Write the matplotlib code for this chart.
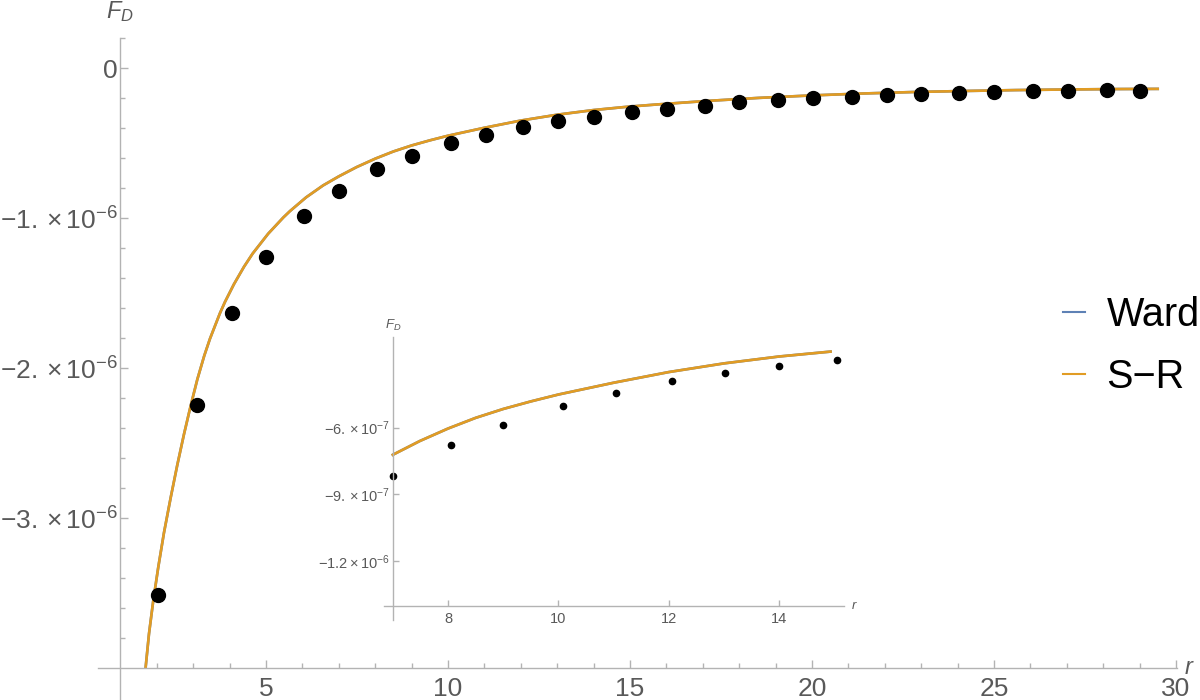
import numpy as np
import matplotlib
matplotlib.use("Agg")
import matplotlib.pyplot as plt
from matplotlib.lines import Line2D
from matplotlib.ticker import FixedLocator, FixedFormatter

plt.rcParams['font.family'] = ['Liberation Sans', 'DejaVu Sans']
plt.rcParams['mathtext.fontset'] = 'custom'
plt.rcParams['mathtext.rm'] = 'Liberation Sans'
plt.rcParams['mathtext.it'] = 'Liberation Sans:italic'
plt.rcParams['mathtext.bf'] = 'Liberation Sans:bold'

# data points, F_D in units of 1e-6
dot_r = [2.03, 3.1, 4.06, 5.0, 6.04, 7.0, 8.05, 9.0, 10.08, 11.04, 12.06, 13.02, 14.0, 15.05,
         16.02, 17.06, 18.0, 19.07, 20.03, 21.1, 22.06, 23.0, 24.04, 25.0, 26.07, 27.03, 28.1, 29.0]
dot_F = [-3.513, -2.247, -1.635, -1.26, -0.987, -0.816, -0.676, -0.586, -0.502, -0.444, -0.391,
         -0.355, -0.323, -0.294, -0.273, -0.251, -0.229, -0.213, -0.198, -0.191, -0.18, -0.171,
         -0.165, -0.158, -0.155, -0.151, -0.147, -0.153]

# curve (Ward and S-R lie on top of each other)
curve_r = [1.695, 1.786, 1.904, 2.041, 2.198, 2.382, 2.563, 2.747, 2.931, 3.113, 3.305, 3.462,
           3.736, 3.874, 4.12, 4.396, 4.634, 5.06, 5.475, 5.66, 6.1, 6.57, 7.0, 7.49, 8.0, 8.5,
           9.0, 9.5, 10.0, 11.0, 12.0, 13.0, 14.0, 14.93, 15.73, 17.13, 18.54, 19.95, 21.36,
           22.77, 24.18, 25.59, 27.0, 28.41, 29.5]
ward_F = [-3.99, -3.769, -3.547, -3.325, -3.095, -2.862, -2.645, -2.44, -2.25, -2.075, -1.916,
          -1.803, -1.633, -1.558, -1.44, -1.324, -1.236, -1.104, -0.996, -0.953, -0.862, -0.782,
          -0.722, -0.66, -0.604, -0.556, -0.516, -0.482, -0.451, -0.398, -0.35, -0.311, -0.28,
          -0.258, -0.243, -0.219, -0.199, -0.183, -0.17, -0.16, -0.153, -0.147, -0.143, -0.14,
          -0.139]
sr_F = list(ward_F)

main_xticks = [5, 10, 15, 20, 25, 30]
main_yticks = [-3e-6, -2e-6, -1e-6, 0]
main_ylabels = [r'$-3.\times10^{-6}$', r'$-2.\times10^{-6}$', r'$-1.\times10^{-6}$', '0']
inset_xticks = [8, 10, 12, 14]
inset_yticks = [-1.2e-6, -9e-7, -6e-7]
inset_ylabels = [r'$-1.2\times10^{-6}$', r'$-9.\times10^{-7}$', r'$-6.\times10^{-7}$']

ward_color = '#5E81B5'
sr_color = '#E19C24'
axis_gray = '#b3b3b3'
label_gray = '#595959'

r = np.array(dot_r)
F = np.array(dot_F) * 1e-6
cr = np.array(curve_r)
wF = np.array(ward_F) * 1e-6
sF = np.array(sr_F) * 1e-6

fig = plt.figure(figsize=(12, 7), dpi=100)


def style_axes(ax, x0, y0, size, tick_len):
    for s in ['top', 'right']:
        ax.spines[s].set_visible(False)
    ax.spines['left'].set_position(('data', x0))
    ax.spines['bottom'].set_position(('data', y0))
    for s in ['left', 'bottom']:
        ax.spines[s].set_color(axis_gray)
        ax.spines[s].set_linewidth(1)
    ax.tick_params(which='both', direction='in', color=axis_gray, labelcolor=label_gray,
                   labelsize=size, width=1)
    ax.tick_params(which='major', length=tick_len)
    ax.tick_params(which='minor', length=tick_len * 0.6)


# main plot
ax = fig.add_axes([98 / 1200, 0, 1079 / 1200, 662 / 700])
ax.plot(cr, wF, color=ward_color, lw=1.9, label='Ward')
ax.plot(cr, sF, color=sr_color, lw=1.9, label='S\u2212R')
ax.plot(r, F, 'o', color='black', ms=10, ls='none')
ax.set_xlim(0.385, 30.03)
ax.set_ylim(-4.21e-6, 0.2e-6)
style_axes(ax, 1, -4e-6, 19, 6)
ax.xaxis.set_major_locator(FixedLocator(main_xticks))
ax.xaxis.set_minor_locator(FixedLocator([v for v in range(2, 31) if v % 5 != 0]))
ax.yaxis.set_major_locator(FixedLocator(main_yticks))
ax.yaxis.set_major_formatter(FixedFormatter(main_ylabels))
ax.yaxis.set_minor_locator(FixedLocator([k * 0.2e-6 for k in range(-20, 2) if k % 5 != 0]))
ax.tick_params(axis='x', pad=6)
ax.tick_params(axis='y', pad=2)
ax.annotate(r'$F_D$', xy=(1, 1), xycoords=('data', 'axes fraction'), xytext=(0, 10),
            textcoords='offset points', ha='center', va='bottom', fontsize=17, color=label_gray)
ax.annotate(r'$r$', xy=(1, -4e-6), xycoords=('axes fraction', 'data'), xytext=(5, 0),
            textcoords='offset points', ha='left', va='center', fontsize=17, color=label_gray)

handles = [Line2D([], [], color=ward_color, lw=1.5), Line2D([], [], color=sr_color, lw=1.5)]
fig.legend(handles, ['Ward', 'S\u2212R'], loc='center left', bbox_to_anchor=(1063 / 1200, 0.506),
           frameon=False, fontsize=28.5, handlelength=0.55, handletextpad=0.55,
           labelspacing=0.62, borderpad=0, borderaxespad=0)

# inset
axi = fig.add_axes([384 / 1200, 1 - 620 / 700, 459.8 / 1200, 283.3 / 700])
axi.patch.set_alpha(0)
mask = (cr >= 7.0) & (cr <= 14.93)
axi.plot(cr[mask], wF[mask], color=ward_color, lw=1.9)
axi.plot(cr[mask], sF[mask], color=sr_color, lw=1.9)
axi.plot(r, F, 'o', color='black', ms=4.5, ls='none')
axi.set_xlim(6.84, 15.17)
axi.set_ylim(-1.465e-6, -1.91e-7)
style_axes(axi, 7, -1.4e-6, 10.5, 4)
axi.xaxis.set_major_locator(FixedLocator(inset_xticks))
axi.yaxis.set_major_locator(FixedLocator(inset_yticks))
axi.yaxis.set_major_formatter(FixedFormatter(inset_ylabels))
axi.tick_params(axis='x', pad=5)
axi.tick_params(axis='y', pad=2)
axi.annotate(r'$F_D$', xy=(7, 1), xycoords=('data', 'axes fraction'), xytext=(0, 3),
             textcoords='offset points', ha='center', va='bottom', fontsize=9.5, color=label_gray)
axi.annotate(r'$r$', xy=(1, -1.4e-6), xycoords=('axes fraction', 'data'), xytext=(5, 0),
             textcoords='offset points', ha='left', va='center', fontsize=9.5, color=label_gray)

fig.savefig('out.png', dpi=100)
